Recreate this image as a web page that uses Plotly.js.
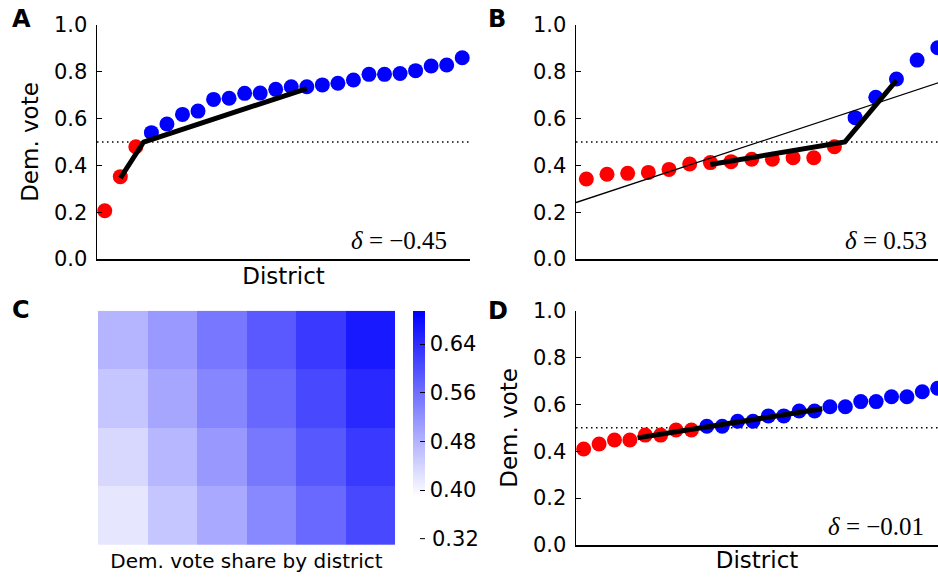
<!DOCTYPE html>
<html><head><meta charset="utf-8">
<script src="https://cdn.plot.ly/plotly-3.0.1.min.js"></script>
<style>html,body{margin:0;padding:0;overflow:hidden;background:#fff}#chart{width:938px;height:577px}</style>
</head><body><div id="chart"></div>
<script>
// ---- data ----
const votesA = [0.206,0.352,0.480,0.540,0.577,0.618,0.632,0.682,0.687,0.708,0.709,0.725,0.736,0.736,0.744,0.751,0.765,0.789,0.789,0.793,0.805,0.825,0.829,0.860];
const votesB = [0.342,0.362,0.366,0.370,0.383,0.406,0.412,0.416,0.426,0.426,0.433,0.433,0.480,0.604,0.691,0.769,0.850,0.903];
const votesD = [0.410,0.431,0.448,0.448,0.469,0.469,0.491,0.491,0.507,0.507,0.528,0.528,0.551,0.551,0.572,0.572,0.590,0.590,0.612,0.612,0.633,0.633,0.654,0.669];
const heatRowTop  = [0.478,0.511,0.552,0.588,0.626,0.665];
const heatRow2    = [0.458,0.496,0.534,0.570,0.609,0.647];
const heatRow3    = [0.436,0.475,0.513,0.551,0.589,0.626];
const heatRowBot  = [0.419,0.458,0.492,0.531,0.569,0.609];
const colorbarTicks = [0.40,0.48,0.56,0.64];
const extraColorbarTick = 0.32;
const heatRange = [0.389,0.695];
const deltaLabels = ['\u22120.45','0.53','\u22120.01'];
const panelLetters = ['A','B','C','D'];
const threshold = 0.5;
const yTicks = [0,0.2,0.4,0.6,0.8,1.0];

const RED = '#ff0000', BLUE = '#0000ff';
const FONT = 'DejaVu Sans';
const W = 938, H = 577;
const px = v => v / W, py = v => 1 - v / H;

function mean(a){ return a.reduce((s,v)=>s+v,0)/a.length; }

function panel(values, xa, ya, withFit){
  const idx = values.map((_,i)=>i);
  const red = idx.filter(i=>values[i] < threshold);
  const blue = idx.filter(i=>values[i] >= threshold);
  const traces = [];
  traces.push({type:'scatter', mode:'markers', x:red, y:red.map(i=>values[i]), xaxis:xa, yaxis:ya,
    marker:{color:RED, size:15, line:{width:0}}, cliponaxis:false, hoverinfo:'skip'});
  traces.push({type:'scatter', mode:'markers', x:blue, y:blue.map(i=>values[i]), xaxis:xa, yaxis:ya,
    marker:{color:BLUE, size:15, line:{width:0}}, cliponaxis:false, hoverinfo:'skip'});
  if(withFit){
    const n = values.length, mx = mean(idx), my = mean(values);
    let sxy=0, sxx=0;
    idx.forEach(i=>{ sxy += (i-mx)*(values[i]-my); sxx += (i-mx)*(i-mx); });
    const slope = sxy/sxx;
    const fx = [-0.5, n-0.5];
    traces.push({type:'scatter', mode:'lines', x:fx, y:fx.map(x=>my+slope*(x-mx)), xaxis:xa, yaxis:ya,
      line:{color:'#000', width:1.3}, hoverinfo:'skip'});
  }
  const nR = red.length, nB = blue.length;
  const lx = [(nR-1)/2, nR-0.5, nR+(nB-1)/2];
  const ly = [mean(red.map(i=>values[i])), threshold, mean(blue.map(i=>values[i]))];
  traces.push({type:'scatter', mode:'lines', x:lx, y:ly, xaxis:xa, yaxis:ya,
    line:{color:'#000', width:5}, hoverinfo:'skip'});
  return traces;
}

const heatTrace = {
  type:'heatmap', z:[heatRowBot, heatRow3, heatRow2, heatRowTop], xaxis:'x3', yaxis:'y3',
  zmin:heatRange[0], zmax:heatRange[1], colorscale:[[0,'#ffffff'],[1,'#0000ff']],
  hoverinfo:'skip', xgap:0, ygap:0,
  colorbar:{x:px(413), xanchor:'left', y:py(310.7), yanchor:'top', len:186, lenmode:'pixels',
    thickness:12, thicknessmode:'pixels', xpad:0, ypad:0, outlinewidth:0,
    ticks:'inside', ticklen:5, tickwidth:1, tickcolor:'#000',
    tickvals:colorbarTicks, ticktext:colorbarTicks.map(v=>v.toFixed(2)),
    tickfont:{family:FONT, size:21, color:'#000'}}
};

const data = [...panel(votesA,'x','y',false), ...panel(votesB,'x2','y2',true), heatTrace, ...panel(votesD,'x4','y4',false)];

const yBase = {range:[0,1], tickvals:yTicks, tickformat:'.1f', ticks:'inside', ticklen:5, tickwidth:1.2, tickcolor:'#000',
  showline:true, linecolor:'#000', linewidth:1.5, showgrid:false, zeroline:false, ticklabelstandoff:4,
  tickfont:{family:FONT, size:21, color:'#000'}};
const xBase = {showline:true, linecolor:'#000', linewidth:1.5, ticks:'', showticklabels:false, showgrid:false, zeroline:false};
const titleFont = {family:FONT, size:23, color:'#000'};

const yTopDom = [py(259), py(25)], yBotDom = [py(545), py(310.7)];
const layout = {
  width:W, height:H, margin:{l:0,r:0,t:0,b:0}, paper_bgcolor:'#fff', plot_bgcolor:'rgba(0,0,0,0)', showlegend:false,
  font:{family:FONT, color:'#000'},
  xaxis:Object.assign({}, xBase, {domain:[px(97),px(470)], range:[-0.5, votesA.length-0.5], anchor:'y',
    title:{text:'District', font:titleFont, standoff:8}}),
  yaxis:Object.assign({}, yBase, {domain:yTopDom, anchor:'x', title:{text:'Dem. vote', font:titleFont, standoff:9}}),
  xaxis2:Object.assign({}, xBase, {domain:[px(576),1], range:[-0.5, 17.01], anchor:'y2'}),
  yaxis2:Object.assign({}, yBase, {domain:yTopDom, anchor:'x2'}),
  xaxis3:{domain:[px(98),px(395)], anchor:'y3', showline:false, ticks:'', showticklabels:false, showgrid:false, zeroline:false,
    title:{text:'Dem. vote share by district', font:{family:FONT, size:20, color:'#000'}, standoff:8}},
  yaxis3:{domain:yBotDom, anchor:'x3', showline:false, ticks:'', showticklabels:false, showgrid:false, zeroline:false},
  xaxis4:Object.assign({}, xBase, {domain:[px(576),1], range:[-0.5, 23.02], anchor:'y4',
    title:{text:'District', font:titleFont, standoff:6}}),
  yaxis4:Object.assign({}, yBase, {domain:yBotDom, anchor:'x4', title:{text:'Dem. vote', font:titleFont, standoff:9}}),
  shapes:[['x','y'],['x2','y2'],['x4','y4']].map(([xa,ya])=>({type:'line', xref:xa+' domain', yref:ya, x0:0, x1:1,
    y0:threshold, y1:threshold, layer:'below', line:{color:'#000', width:1.5, dash:'1.5px,3.5px'}})),
  annotations:[]
};
// extra colorbar tick beyond the bar (as in the reference)
const barTop = 310.7, barLen = 186;
const extraY = barTop + barLen + (heatRange[0]-extraColorbarTick)/(heatRange[1]-heatRange[0])*barLen;
layout.shapes.push({type:'line', xref:'paper', yref:'paper', x0:px(420), x1:px(425), y0:py(extraY), y1:py(extraY), line:{color:'#000', width:1}});
layout.annotations.push({xref:'paper', yref:'paper', x:px(430), y:py(extraY), xanchor:'left', yanchor:'middle', showarrow:false,
  text:extraColorbarTick.toFixed(2), font:{family:FONT, size:21, color:'#000'}});
// delta labels
const deltaPos = [[449,240],[929,240],[926,526]];
deltaLabels.forEach((t,i)=>layout.annotations.push({xref:'paper', yref:'paper', x:px(deltaPos[i][0]), y:py(deltaPos[i][1]),
  xanchor:'right', yanchor:'middle', showarrow:false, text:'<i>\u03b4</i> = '+t, font:{family:'Liberation Serif', size:25, color:'#000'}}));
// panel letters
const letterPos = [[10,19],[486,19],[10,310],[486,311]];
panelLetters.forEach((t,i)=>layout.annotations.push({xref:'paper', yref:'paper', x:px(letterPos[i][0]), y:py(letterPos[i][1]),
  xanchor:'left', yanchor:'middle', showarrow:false, text:'<b>'+t+'</b>', font:{family:FONT, size:24, color:'#000'}}));

Plotly.newPlot('chart', data, layout, {staticPlot:true, displayModeBar:false});
</script></body></html>
